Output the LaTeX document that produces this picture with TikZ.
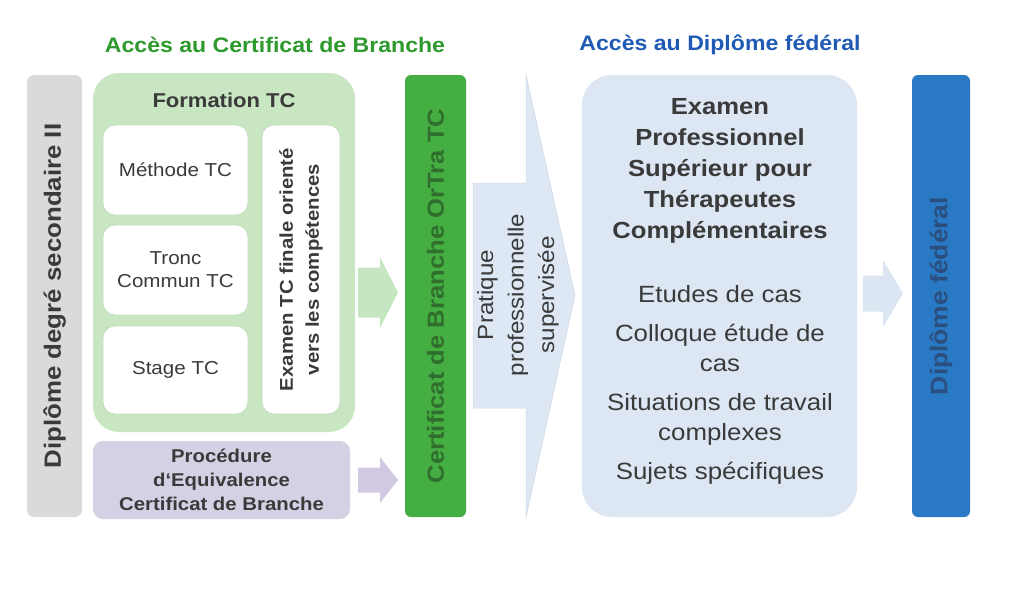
\documentclass[tikz,border=0pt]{standalone}
\usepackage{fontspec}
\setmainfont{Liberation Sans}[FakeStretch=1.1]
\definecolor{graybar}{HTML}{DADADA}
\definecolor{greenbox}{HTML}{C8E6C2}
\definecolor{whiteedge}{HTML}{C4DCC0}
\definecolor{purplebox}{HTML}{D6D0E5}
\definecolor{darkgreen}{HTML}{45AE42}
\definecolor{darkgreentxt}{HTML}{2F6E2D}
\definecolor{lightblue}{HTML}{DCE7F3}
\definecolor{chevblue}{HTML}{DDE8F4}
\definecolor{bluebar}{HTML}{2A79C4}
\definecolor{bluetxt}{HTML}{2A4F7E}
\definecolor{txt}{HTML}{3A3A3A}
\definecolor{titlegreen}{HTML}{2E9A2E}
\definecolor{titleblue}{HTML}{1F5BB5}
\definecolor{arrgreen}{HTML}{C6E5C1}
\definecolor{arrpurple}{HTML}{D2CAE3}
\definecolor{arrblue}{HTML}{DCE6F2}
\newcommand\fsz[2]{\fontsize{#1}{#2}\selectfont}
\begin{document}
\begin{tikzpicture}[x=1pt,y=-1pt,
  panel/.style={rounded corners=#1, inner sep=0pt, outer sep=0pt, text=txt, align=center},
  panel/.default=8pt,
  title/.style={font=\fsz{21}{25}\bfseries, inner sep=0pt}
]
\useasboundingbox[fill=white] (0,0) rectangle (1029,603);

% titles
\node[title, text=titlegreen] (t1) at (275,45) {Accès au Certificat de Branche};
\node[title, text=titleblue] (t2) at (720,45) {Accès au Diplôme fédéral};

% grey bar
\node[panel=7pt, fill=graybar, rotate=90, minimum width=442, minimum height=55,
      font=\fsz{23.5}{28}\bfseries] (dip) at (54.5,296) {Diplôme degré secondaire II};

% formation TC
\node[panel=26pt, fill=greenbox, minimum width=262, minimum height=359] (form) at (224,252.5) {};
\node[font=\fsz{20}{24}\bfseries, text=txt, inner sep=0pt] (formt) at (224,100) {Formation TC};
\node[panel=12pt, fill=white, draw=whiteedge, line width=0.8pt, minimum width=145, minimum height=90,
      font=\fsz{18.7}{23}] (meth) at (175.5,170) {Méthode TC};
\node[panel=12pt, fill=white, draw=whiteedge, line width=0.8pt, minimum width=145, minimum height=90,
      font=\fsz{18.7}{23}] (tronc) at (175.5,270) {Tronc\\Commun TC};
\node[panel=12pt, fill=white, draw=whiteedge, line width=0.8pt, minimum width=145, minimum height=88,
      font=\fsz{18.7}{23}] (stage) at (175.5,370) {Stage TC};
\node[panel=12pt, fill=white, draw=whiteedge, line width=0.8pt, rotate=90, minimum width=289, minimum height=78,
      font=\fsz{18.5}{26}\bfseries] (exam) at (301,269.5) {Examen TC finale orienté\\vers les compétences};

% procedure
\node[panel=10pt, fill=purplebox, minimum width=257, minimum height=78,
      font=\fsz{18.5}{24}\bfseries] (proc) at (221.5,480) {Procédure\\d‘Equivalence\\Certificat de Branche};

% certificate bar
\node[panel=6pt, fill=darkgreen, rotate=90, minimum width=442, minimum height=61,
      text=darkgreentxt, font=\fsz{23.3}{28}\bfseries] (cert) at (435.5,296) {Certificat de Branche OrTra TC};

% small block arrows (from the boxes towards the bars)
\coordinate (agtip) at (398,292.5);
\coordinate (aptip) at (398,480);
\coordinate (abtip) at (903,293.5);
\fill[arrgreen] ([shift={(-40,-25)}]agtip) -- ([shift={(-18,-25)}]agtip) -- ([shift={(-18,-35.5)}]agtip)
  -- (agtip) -- ([shift={(-18,35.5)}]agtip) -- ([shift={(-18,25)}]agtip) -- ([shift={(-40,25)}]agtip) -- cycle;
\fill[arrpurple] ([shift={(-40,-12.5)}]aptip) -- ([shift={(-18,-12.5)}]aptip) -- ([shift={(-18,-23)}]aptip)
  -- (aptip) -- ([shift={(-18,23)}]aptip) -- ([shift={(-18,12.5)}]aptip) -- ([shift={(-40,12.5)}]aptip) -- cycle;
\fill[arrblue] ([shift={(-40,-18)}]abtip) -- ([shift={(-20,-18)}]abtip) -- ([shift={(-20,-33.5)}]abtip)
  -- (abtip) -- ([shift={(-20,33.5)}]abtip) -- ([shift={(-20,18)}]abtip) -- ([shift={(-40,18)}]abtip) -- cycle;

% chevron
\filldraw[fill=chevblue, draw=chevblue!85!gray, line width=0.5pt]
  (473,183) -- (526,183) -- (526,75) -- (575,295) -- (526,517) -- (526,408) -- (473,408) -- cycle;
\node[rotate=90, align=center, text=txt, font=\fsz{22}{30.5}, inner sep=0pt] (prat) at (518,295)
  {Pratique\\professionnelle\\supervisée};

% exam box
\node[panel=30pt, fill=lightblue, minimum width=275, minimum height=442] (epst) at (719.5,296) {};
\node[align=center, text=txt, font=\fsz{23.3}{31}\bfseries, inner sep=0pt] (epsth) at (720,171)
  {Examen\\Professionnel\\Supérieur pour\\Thérapeutes\\Complémentaires};
\node[align=center, text=txt, font=\fsz{23.5}{30.5}, inner sep=0pt] (epstl) at (720,385)
  {Etudes de cas\\[8pt]Colloque étude de\\cas\\[8pt]Situations de travail\\complexes\\[8pt]Sujets spécifiques};

% diploma bar
\node[panel=6pt, fill=bluebar, rotate=90, minimum width=442, minimum height=58,
      text=bluetxt, font=\fsz{24}{28}\bfseries] (fed) at (941,296) {Diplôme fédéral};
\end{tikzpicture}
\end{document}
